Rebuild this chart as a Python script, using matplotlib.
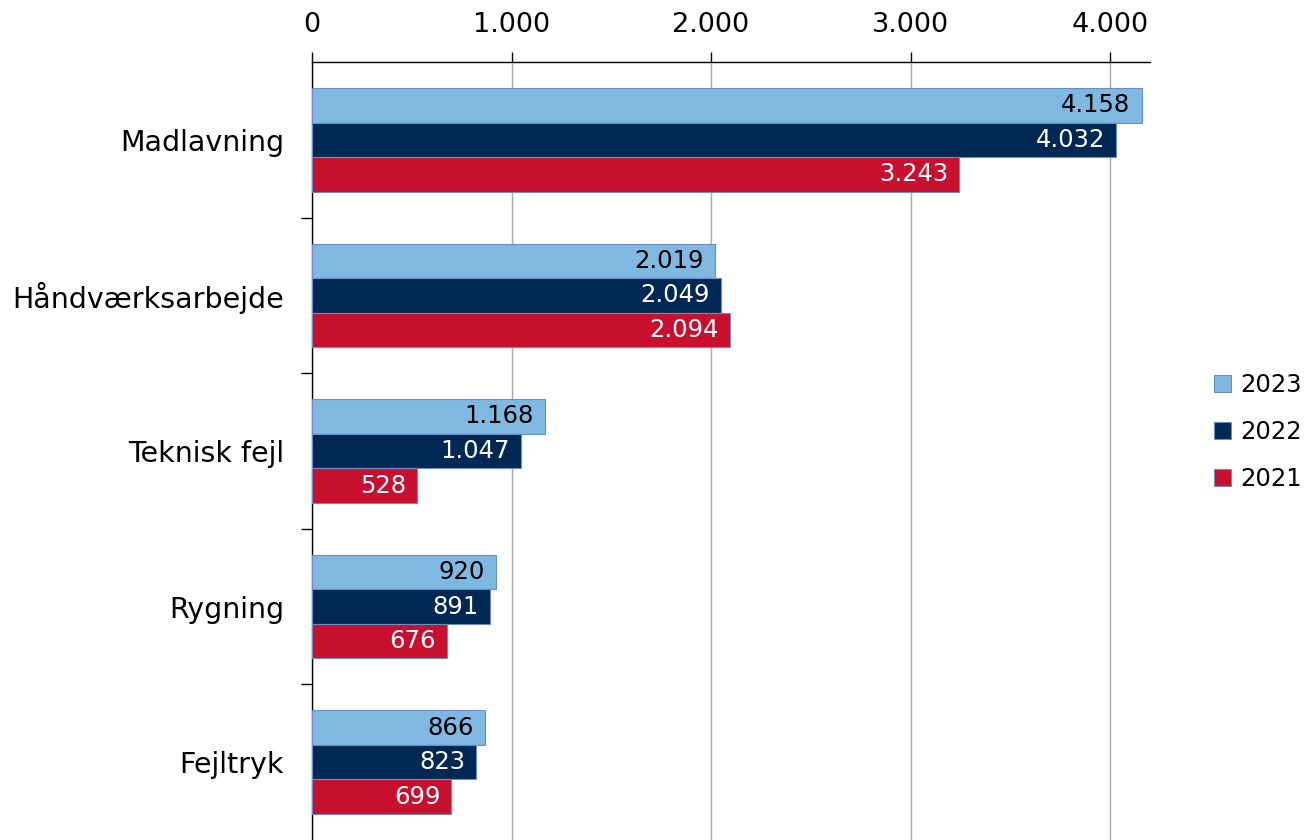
import numpy as np
import matplotlib.pyplot as plt
from matplotlib.ticker import FuncFormatter

categories = ["Madlavning", "Håndværksarbejde", "Teknisk fejl", "Rygning", "Fejltryk"]
years = ["2023", "2022", "2021"]
v2023 = [4158, 2019, 1168, 920, 866]
v2022 = [4032, 2049, 1047, 891, 823]
v2021 = [3243, 2094, 528, 676, 699]
xticks = [0, 1000, 2000, 3000, 4000]

colors = ["#7FB8E1", "#002855", "#C8102E"]
text_colors = ["black", "white", "white"]


def dk(x):
    # danish thousands separator
    return f"{int(x):,}".replace(",", ".")


fig = plt.figure(figsize=(13.15, 8.4), dpi=100)
ax = fig.add_axes([312 / 1315, 0.0, (1150 - 312) / 1315, 1 - 62 / 840])

y = np.arange(len(categories))
h = 0.222
series = [v2023, v2022, v2021]
for i, vals in enumerate(series):
    bars = ax.barh(y + (i - 1) * h, vals, height=h, color=colors[i],
                   edgecolor="#6A8FC8", linewidth=0.8, label=years[i], zorder=3)
    for b, v in zip(bars, vals):
        ax.annotate(dk(v), (v, b.get_y() + h / 2), xytext=(-8, 0),
                    textcoords="offset points", ha="right", va="center",
                    fontsize=17.5, color=text_colors[i], zorder=4)

ax.set_xlim(0, 4200)
ax.set_ylim(4.5, -0.5)
ax.set_xticks(xticks)
ax.xaxis.set_major_formatter(FuncFormatter(lambda x, p: dk(x)))
ax.xaxis.tick_top()
ax.tick_params(axis="x", labelsize=19.5, length=7, width=1, direction="out", pad=10)
ax.set_yticks(y)
ax.set_yticklabels(categories)
ax.tick_params(axis="y", which="major", length=0, labelsize=20.5, pad=20)
ax.set_yticks([0.5, 1.5, 2.5, 3.5], minor=True)
ax.tick_params(axis="y", which="minor", length=8, width=1)
ax.grid(axis="x", color="#A6A6A6", linewidth=1, zorder=0)

for s in ["right", "bottom"]:
    ax.spines[s].set_visible(False)
ax.spines["top"].set_linewidth(1)
ax.spines["left"].set_linewidth(1)

fig.legend(loc="center left", bbox_to_anchor=(1192 / 1315, 1 - 432 / 840),
           frameon=False, fontsize=17.5, handlelength=0.7, handleheight=0.7,
           handletextpad=0.4, labelspacing=0.95)

fig.savefig("out.png", dpi=100)
